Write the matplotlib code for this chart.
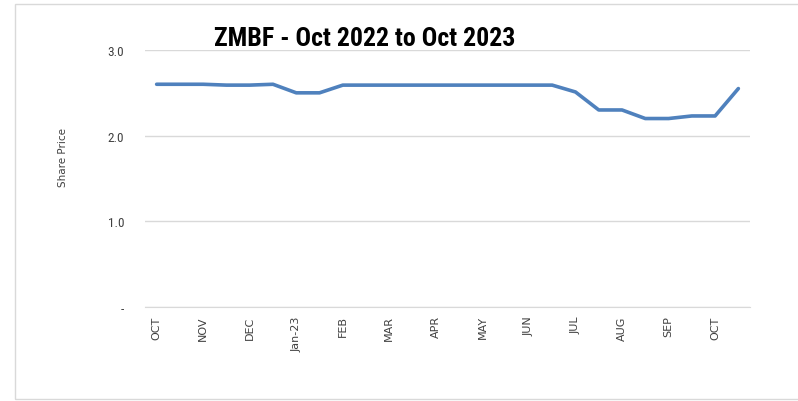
"""ZMBF share price, Oct 2022 to Oct 2023 (Excel-style line chart)."""

import matplotlib
matplotlib.use("Agg")
import matplotlib.pyplot as plt
from matplotlib.patches import Rectangle
from matplotlib import font_manager

# Semi-monthly observations; every other point carries a month label
month_labels = ["OCT", "NOV", "DEC", "Jan-23", "FEB", "MAR", "APR",
                "MAY", "JUN", "JUL", "AUG", "SEP", "OCT"]
share_price = [2.60, 2.60, 2.60, 2.59, 2.59, 2.60, 2.50, 2.50,
               2.59, 2.59, 2.59, 2.59, 2.59, 2.59, 2.59, 2.59,
               2.59, 2.59, 2.51, 2.30, 2.30, 2.20, 2.20, 2.23,
               2.23, 2.55]
y_ticks = [0, 1, 2, 3]
y_tick_labels = ["-", "1.0", "2.0", "3.0"]

# Narrow font for the Calibri-like title / value labels, if present
names = {f.name for f in font_manager.fontManager.ttflist}
narrow = "DejaVu Sans"
for cand in ["Liberation Sans Narrow", "DejaVu Sans Condensed",
             "Roboto Condensed", "Open Sans Condensed"]:
    if cand in names:
        narrow = cand
        break

W, H = 798, 402
fig = plt.figure(figsize=(W / 100, H / 100), dpi=100)

# light outer frame, open on the right like the source crop
fig.patches.append(Rectangle((15 / W, 1 - 400 / H), 800 / W, 395 / H,
                             transform=fig.transFigure, fill=False,
                             edgecolor="#D9D9D9", linewidth=1.0))

ax = fig.add_axes([145 / W, 1 - 308 / H, (750 - 145) / W, (308 - 51) / H])

x = list(range(len(share_price)))
ax.plot(x, share_price, color="#4F81BD", linewidth=2.6,
        solid_capstyle="round", solid_joinstyle="round", zorder=3)

ax.set_xlim(-0.5, len(share_price) - 0.5)
ax.set_ylim(0, 3)
ax.set_xticks(x[::2])
ax.set_xticklabels(month_labels, rotation=90, fontsize=8, color="#404040")
ax.set_yticks(y_ticks)
ax.set_yticklabels(y_tick_labels, fontsize=9.5, color="#404040", family=narrow)
ax.tick_params(length=0, pad=15)
ax.tick_params(axis="x", pad=6)

ax.grid(axis="y", color="#D9D9D9", linewidth=1.0)
ax.set_axisbelow(True)
for side in ["top", "right", "left"]:
    ax.spines[side].set_visible(False)
ax.spines["bottom"].set_color("#D9D9D9")

fig.text(63 / W, 1 - 158 / H, "Share Price", rotation=90, fontsize=7.5,
         color="#404040", ha="center", va="center")
title = fig.text(365 / W, 1 - 39 / H, "ZMBF - Oct 2022 to Oct 2023", fontsize=17,
                 fontweight="bold", family=narrow, ha="center", va="center")

# size the title so it spans about the same width as the original (~303 px)
renderer = fig.canvas.get_renderer()
w = title.get_window_extent(renderer).width
title.set_fontsize(17 * 303 / w)

fig.savefig("out.png", dpi=100)
